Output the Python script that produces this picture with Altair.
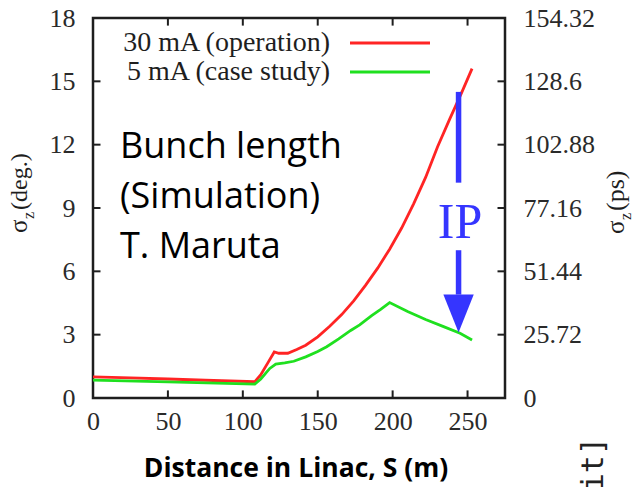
import json
import altair as alt
import pandas as pd

# Bunch length sigma_z (deg.) along the linac, S (m), for two beam currents
s_30ma = [0, 25, 50, 75, 108, 112, 117, 121, 124, 130, 136, 142, 150, 158, 166,
          174, 182, 190, 198, 206, 214, 222, 230, 238, 246, 253]
sz_30ma = [1.0, 0.95, 0.9, 0.84, 0.77, 1.1, 1.7, 2.18, 2.12, 2.12, 2.3, 2.5, 2.9,
           3.4, 3.95, 4.6, 5.35, 6.15, 7.05, 8.05, 9.2, 10.45, 11.9, 13.2, 14.45, 15.6]

s_5ma = [0, 50, 108, 112, 118, 122, 128, 134, 142, 150, 156, 164, 172, 178, 186,
         192, 198, 210, 222, 234, 245, 253]
sz_5ma = [0.85, 0.76, 0.66, 0.9, 1.4, 1.61, 1.66, 1.74, 1.95, 2.2, 2.43, 2.8, 3.2,
          3.46, 3.9, 4.2, 4.52, 4.1, 3.72, 3.38, 3.07, 2.75]

series_names = ["30 mA (operation)", "5 mA (case study)"]
series_colors = ["#ff2424", "#1fe01f"]

# Axis ticks; the right axis shows the same positions converted to ps
x_ticks = [0, 50, 100, 150, 200, 250]
y_ticks = [0, 3, 6, 9, 12, 15, 18]
ps_labels = ["0", "25.72", "51.44", "77.16", "102.88", "128.6", "154.32"]

# IP marker: position along the linac and the arrow's extent in sigma_z
ip_s = 244
arrow_upper = [14.5, 10.2]
arrow_lower = [7.0, 4.9]
arrow_tip = 3.1

SERIF = "Liberation Serif"
SANS = "Open Sans"
BLUE = "#3535ff"
INK = "#1e1e1e"

X_MAX, Y_MAX = 275, 18
TICK_X, TICK_Y = 5.0, 0.36   # inward tick length in data units

x_scale = alt.Scale(domain=[0, X_MAX], nice=False, zero=False)
y_scale = alt.Scale(domain=[0, Y_MAX], nice=False, zero=False)

curves = pd.concat([
    pd.DataFrame({"s": s_30ma, "sz": sz_30ma, "series": series_names[0]}),
    pd.DataFrame({"s": s_5ma, "sz": sz_5ma, "series": series_names[1]}),
])

lines = alt.Chart(curves).mark_line(strokeWidth=2.8).encode(
    x=alt.X("s:Q", scale=x_scale,
            axis=alt.Axis(orient="bottom", values=x_ticks, labelPadding=10,
                          title=None, labelFlush=False)),
    y=alt.Y("sz:Q", scale=y_scale,
            axis=alt.Axis(orient="left", values=y_ticks, labelPadding=18,
                          title=None)),
    color=alt.Color("series:N", scale=alt.Scale(domain=series_names, range=series_colors),
                    legend=None),
    detail="series:N",
)

# Inward-pointing ticks on all four sides of the frame
xt = pd.DataFrame({"s": x_ticks * 2,
                   "y0": [0] * len(x_ticks) + [Y_MAX] * len(x_ticks),
                   "y1": [TICK_Y] * len(x_ticks) + [Y_MAX - TICK_Y] * len(x_ticks)})
yt = pd.DataFrame({"v": y_ticks * 2,
                   "x0": [0] * len(y_ticks) + [X_MAX] * len(y_ticks),
                   "x1": [TICK_X] * len(y_ticks) + [X_MAX - TICK_X] * len(y_ticks)})
tick_style = dict(color=INK, strokeWidth=2)

ticks_x = alt.Chart(xt).mark_rule(**tick_style).encode(
    x=alt.X("s:Q", scale=x_scale, axis=None),
    y=alt.Y("y0:Q", scale=y_scale, axis=None), y2="y1:Q")
ticks_y = alt.Chart(yt).mark_rule(**tick_style).encode(
    y=alt.Y("v:Q", scale=y_scale,
            axis=alt.Axis(orient="right", values=y_ticks, labelPadding=18,
                          labelAlign="left", title=None,
                          labelExpr=f"{json.dumps(ps_labels)}[round(datum.value / 3)]")),
    x=alt.X("x0:Q", scale=x_scale, axis=None), x2="x1:Q")

# Key in the upper part of the plot
legend_layers = []
for i, (name, col) in enumerate(zip(series_names, series_colors)):
    yy = 25 + 29 * i
    legend_layers.append(
        alt.Chart().mark_text(font=SERIF, fontSize=28, color=INK, align="right",
                              baseline="middle").encode(
            x=alt.value(237), y=alt.value(yy), text=alt.value(name)))
    legend_layers.append(
        alt.Chart().mark_rule(color=col, strokeWidth=2.8).encode(
            x=alt.value(257), x2=alt.value(337), y=alt.value(yy)))

note = alt.Chart().mark_text(font=SANS, fontSize=36, color="#000", align="left",
                             baseline="alphabetic", lineBreak="\n",
                             lineHeight=50).encode(
    x=alt.value(27), y=alt.value(140),
    text=alt.value("Bunch length\n(Simulation)\nT. Maruta"))

# IP arrow pointing at the 5 mA curve
arrow_df = pd.DataFrame({"s": [ip_s, ip_s], "a": [arrow_upper[0], arrow_lower[0]],
                         "b": [arrow_upper[1], arrow_lower[1]]})
arrow_shaft = alt.Chart(arrow_df).mark_rule(color=BLUE, strokeWidth=5.5).encode(
    x=alt.X("s:Q", scale=x_scale, axis=None),
    y=alt.Y("a:Q", scale=y_scale, axis=None), y2="b:Q")
arrow_head = alt.Chart(pd.DataFrame({"s": [ip_s], "v": [arrow_tip]})).mark_point(
    shape="M -0.8 -2 L 0.8 -2 L 0 0 Z", size=1444, filled=True, color=BLUE,
    opacity=1, strokeWidth=0).encode(
    x=alt.X("s:Q", scale=x_scale, axis=None),
    y=alt.Y("v:Q", scale=y_scale, axis=None))
ip_label = alt.Chart().mark_text(font=SERIF, fontSize=50, color=BLUE, align="center",
                                 baseline="alphabetic").encode(
    x=alt.value(367), y=alt.value(220), text=alt.value("IP"))


# Axis titles (sigma with a subscript z) and the bottom caption
def rot(text, x, y, size, font=SERIF, color=INK):
    return alt.Chart().mark_text(font=font, fontSize=size, color=color, angle=270,
                                 align="left", baseline="alphabetic").encode(
        x=alt.value(x), y=alt.value(y), text=alt.value(text))


titles = [
    rot("σ", -66, 215, 25), rot("z", -59, 201, 16), rot("(deg.)", -66, 192, 24),
    rot("σ", 531, 216, 25), rot("z", 538, 202, 16), rot("(ps)", 531, 193, 26),
]
xlabel = alt.Chart().mark_text(font=SANS, fontSize=26.5, fontWeight="bold", color="#000",
                               align="center", baseline="alphabetic").encode(
    x=alt.value(203), y=alt.value(459), text=alt.value("Distance in Linac, S (m)"))
cut_label = alt.Chart().mark_text(font="DejaVu Sans Mono", fontSize=30, color="#222",
                                  angle=270, align="right",
                                  baseline="alphabetic").encode(
    x=alt.value(510), y=alt.value(419), text=alt.value("[unit]"))

chart = alt.layer(
    ticks_x, ticks_y, lines,
    *legend_layers, note, arrow_shaft, arrow_head, ip_label,
    *titles, xlabel, cut_label,
).resolve_axis(x="independent", y="independent").properties(
    width=412, height=380,
    padding={"left": 93, "top": 18, "right": 129, "bottom": 89},
    autosize=alt.AutoSizeParams(type="none"),
    background="white",
).configure_view(
    stroke=INK, strokeWidth=2.5,
).configure_axis(
    domain=False, grid=False, ticks=False,
    labelFont=SERIF, labelFontSize=26, labelColor="#2a2a2a",
)

chart.save("out.html", embed_options={"renderer": "svg", "actions": False})
